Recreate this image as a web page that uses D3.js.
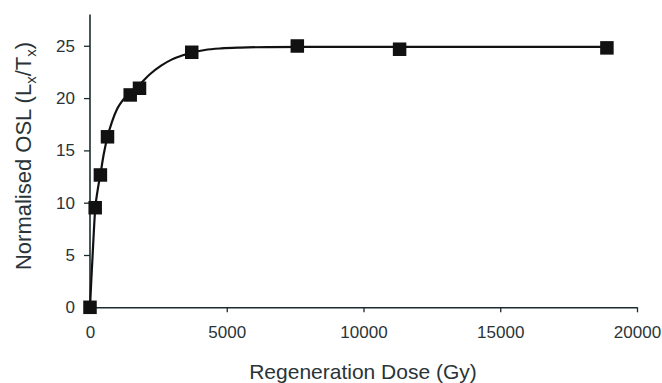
<!DOCTYPE html>
<html>
<head>
<meta charset="utf-8">
<script src="https://cdn.jsdelivr.net/npm/d3@7"></script>
<style>
  html, body { margin: 0; padding: 0; background: #fff; }
  svg { display: block; font-family: "Liberation Sans", Arial, sans-serif; }
</style>
</head>
<body>
<svg id="chart" width="662" height="383"></svg>
<script>
// Measured data points (Regeneration dose in Gy, normalised OSL Lx/Tx)
const doses = [0, 190, 380, 640, 1470, 1810, 3720, 7580, 11320, 18900];
const osl   = [0, 9.52, 12.65, 16.3, 20.3, 20.94, 24.38, 24.98, 24.67, 24.8];

// Fitted dose-response curve
const curveDose = [0, 50, 100, 190, 280, 380, 500, 640, 800, 1000, 1200, 1470, 1810, 2200, 2600, 3000, 3400, 3720, 4200, 4800, 5500, 6500, 8000, 10000, 13000, 16000, 18900];
const curveOsl  = [0, 2.7, 5.2, 9.4, 11.2, 12.7, 14.6, 16.3, 17.7, 19.0, 19.8, 20.5, 21.3, 22.3, 23.1, 23.7, 24.1, 24.35, 24.6, 24.75, 24.83, 24.88, 24.9, 24.9, 24.9, 24.9, 24.9];

const xTicks = [0, 5000, 10000, 15000, 20000];
const yTicks = [0, 5, 10, 15, 20, 25];
const xTitle = "Regeneration Dose (Gy)";

const svg = d3.select("#chart");
const axisColor = "#1c2b30";
const textColor = "#2a3438";

const x = d3.scaleLinear().domain([0, 20000]).range([90, 637]);
const y = d3.scaleLinear().domain([0, 28]).range([307.3, 14.4]);

// Axes
const xAxis = svg.append("g").attr("transform", `translate(0,${y(0)})`)
  .call(d3.axisBottom(x).tickValues(xTicks).tickSizeInner(5).tickSizeOuter(0).tickPadding(14).tickFormat(d3.format("d")));
const yAxis = svg.append("g").attr("transform", `translate(${x(0)},0)`)
  .call(d3.axisLeft(y).tickValues(yTicks).tickSizeInner(6).tickSizeOuter(0).tickPadding(9));

[xAxis, yAxis].forEach(g => {
  g.selectAll(".domain").attr("stroke", axisColor).attr("stroke-width", 1.6);
  g.selectAll(".tick line").attr("stroke", axisColor).attr("stroke-width", 1.3);
  g.selectAll(".tick text").attr("fill", textColor).style("font-size", "17px").style("font-family", "'Liberation Sans', Arial, sans-serif");
});
// y domain reaches to the axis top
yAxis.select(".domain").attr("d", `M0,${y(0)}V${y.range()[1]}`);

// Curve
const line = d3.line().x((d, i) => x(curveDose[i])).y((d, i) => y(curveOsl[i])).curve(d3.curveMonotoneX);
svg.append("path").datum(curveDose).attr("d", line)
  .attr("fill", "none").attr("stroke", "#111").attr("stroke-width", 2.2);

// Markers
const ms = 13.5;
svg.append("g").selectAll("rect").data(doses).join("rect")
  .attr("x", (d) => x(d) - ms / 2)
  .attr("y", (d, i) => y(osl[i]) - ms / 2)
  .attr("width", ms).attr("height", ms)
  .attr("fill", "#111");

// Titles
svg.append("text").attr("x", 363).attr("y", 379)
  .attr("text-anchor", "middle").attr("fill", textColor)
  .style("font-size", "21px").text(xTitle);

const yt = svg.append("text").attr("transform", "translate(31,156) rotate(-90)")
  .attr("text-anchor", "middle").attr("fill", textColor).style("font-size", "22px");
yt.append("tspan").text("Normalised OSL (L");
yt.append("tspan").attr("dy", 5).style("font-size", "15px").text("x");
yt.append("tspan").attr("dy", -5).text("/T");
yt.append("tspan").attr("dy", 5).style("font-size", "15px").text("x");
yt.append("tspan").attr("dy", -5).text(")");
</script>
</body>
</html>
